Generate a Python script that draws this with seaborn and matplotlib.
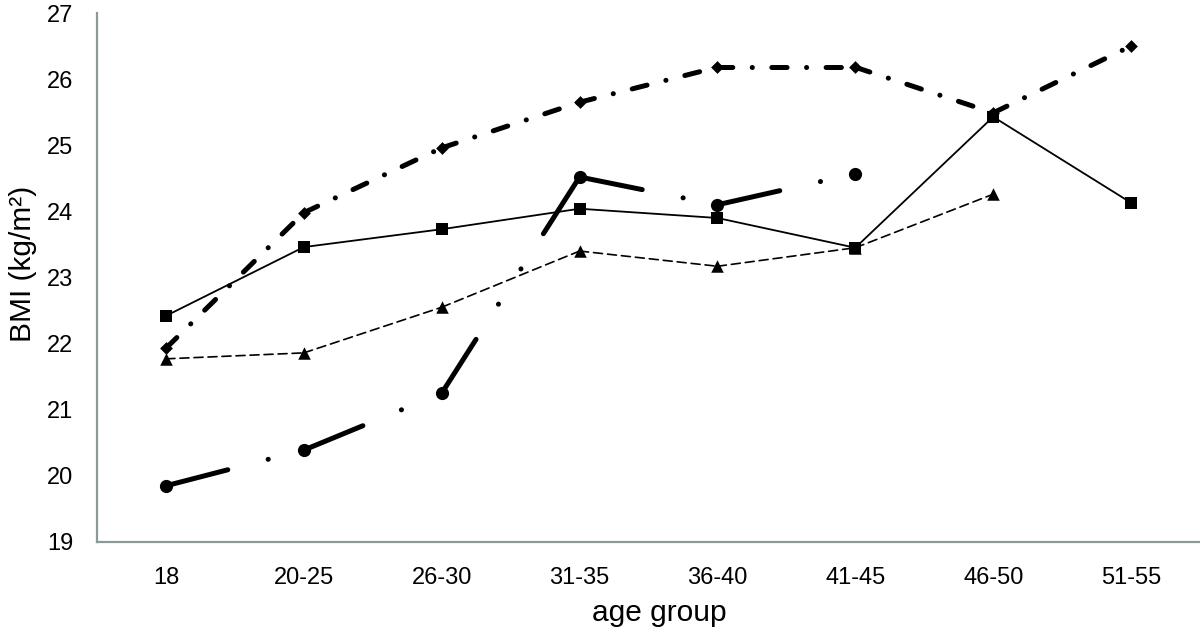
import numpy as np
import matplotlib.pyplot as plt
import seaborn as sns

# age groups on x axis
groups = ["18", "20-25", "26-30", "31-35", "36-40", "41-45", "46-50", "51-55"]

# BMI per age group, one list per line (nan = no point)
bmi_square = [22.42, 23.46, 23.73, 24.04, 23.90, 23.45, 25.43, 24.13]
bmi_triangle = [21.77, 21.86, 22.55, 23.40, 23.17, 23.45, 24.26, np.nan]
bmi_diamond = [21.93, 23.98, 24.96, 25.65, 26.18, 26.18, 25.49, 26.50]
bmi_circle = [19.85, 20.39, 21.25, 24.52, 24.10, 24.57, np.nan, np.nan]

sns.set_theme(style="white")
plt.rcParams['font.family'] = ['Liberation Sans', 'DejaVu Sans']
plt.rcParams['lines.scale_dashes'] = False

fig = plt.figure(figsize=(12, 6.32), dpi=100)
ax = fig.add_axes([97 / 1200, 90 / 632, 1103 / 1200, 529 / 632])

xpos = np.arange(len(groups))


def draw_series(vals, marker, msize, lw, ls, z):
    y = np.array(vals, dtype=float)
    ok = ~np.isnan(y)
    # excel starts the dash pattern again on every segment
    for i in range(len(y) - 1):
        if ok[i] and ok[i + 1]:
            sns.lineplot(x=xpos[i:i + 2], y=y[i:i + 2], ax=ax, color='black',
                         linewidth=lw, linestyle=ls, dash_capstyle='round',
                         estimator=None, sort=False, zorder=z)
    sns.scatterplot(x=xpos[ok], y=y[ok], ax=ax, marker=marker, s=msize ** 2,
                    color='black', linewidth=0, zorder=z + 0.5)


# long dash dot dot, thick
draw_series(bmi_circle, 'o', 9.5, 3.6, (0, (46, 30, 0.1, 30, 0.1, 30)), 2)
# dash dot, thick
draw_series(bmi_diamond, 'D', 6.5, 3.6, (0, (11, 14, 0.1, 14)), 3)
# short dash, thin
draw_series(bmi_triangle, '^', 9, 1.2, (0, (6.5, 3.6)), 4)
# solid, thin
draw_series(bmi_square, 's', 8, 1.3, '-', 5)

ax.set_xlim(-0.5, len(groups) - 0.5)
ax.set_ylim(19, 27)
ax.set_yticks(range(19, 28))
ax.set_xticks(xpos, groups)
ax.tick_params(axis='both', length=0, labelsize=17, colors='black')
ax.tick_params(axis='x', pad=18)
ax.tick_params(axis='y', pad=17)

sns.despine(ax=ax)
for side in ['left', 'bottom']:
    ax.spines[side].set_color('#8a9a9a')
    ax.spines[side].set_linewidth(1.6)

ax.set_xlabel("age group", fontsize=21.5, color='black')
ax.set_ylabel("BMI (kg/m²)", fontsize=21.5, color='black')
ax.xaxis.set_label_coords(0.51, -0.108)
ax.yaxis.set_label_coords(-0.054, 0.525)

fig.savefig("out.png", dpi=100)
